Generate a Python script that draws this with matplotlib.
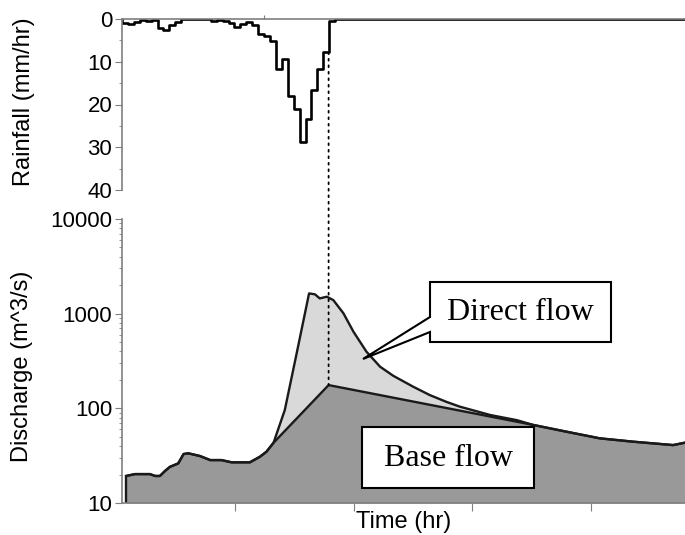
import matplotlib.pyplot as plt
import numpy as np
from matplotlib.patches import ConnectionPatch, Polygon, Rectangle

# hourly rainfall (mm/hr), one value per hour from t=0
rain = [1.0, 1.2, 0.7, 0.2, 0.4, 0.3, 2.2, 2.6, 1.4, 0.6,
        0.1, 0.0, 0.0, 0.0, 0.1, 0.5, 0.3, 0.4, 0.9, 1.8,
        1.2, 0.8, 1.4, 3.4, 4.0, 5.2, 11.6, 9.4, 18.1, 21.0,
        28.7, 23.5, 16.7, 11.6, 7.8, 0.5]

# total discharge (m^3/s)
flow_t = [0.7, 2.2, 4.7, 5.6, 6.4, 7.3, 8.1, 9.5, 10.4, 11.2, 13.2, 14.9,
          16.8, 18.5, 21.6, 23.3, 24.4, 25.6, 27.5, 29.5, 31.6, 32.6, 33.4,
          34.6, 35.7, 37.4, 39.1, 41.3, 43.6, 45.8, 49.2, 52.0, 54.8, 57.1,
          62.2, 66.7, 69.5, 75.1, 80.7, 86.4, 93.1, 95.1]
flow_q = [19.3, 20.2, 20.2, 19.3, 19.3, 21.9, 24.1, 26.2, 32.9, 33.5, 31.3, 28.4,
          28.4, 26.9, 26.9, 30.8, 34.8, 43.3, 96, 380, 1637, 1600, 1450,
          1510, 1390, 1010, 644, 396, 275, 221, 169, 138, 117, 104,
          85, 75, 66.7, 56.6, 48.2, 44.4, 40.9, 43.4]

# base flow (m^3/s)
base_t = [0.7, 2.2, 4.7, 5.6, 6.4, 7.3, 8.1, 9.5, 10.4, 11.2, 13.2, 14.9,
          16.8, 18.5, 21.6, 23.3, 24.4, 25.6, 34.9, 67.8, 69.5, 75.1, 80.7,
          86.4, 93.1, 95.1]
base_q = [19.3, 20.2, 20.2, 19.3, 19.3, 21.9, 24.1, 26.2, 32.9, 33.5, 31.3, 28.4,
          28.4, 26.9, 26.9, 30.8, 34.8, 43.3, 176, 70, 66.7, 56.6, 48.2,
          44.4, 40.9, 43.4]

plt.rcParams['font.family'] = ['Liberation Sans', 'DejaVu Sans']

W, H = 685, 535
fig = plt.figure(figsize=(W / 100, H / 100), dpi=100)
xmax = 95.1
spine_col = '#7f7f7f'
line_col = '#1a1a1a'

# ---- rainfall panel
ax1 = fig.add_axes([122 / W, 1 - 190 / H, 1 - 122 / W, 171 / H])
edges = np.arange(len(rain) + 1)
ax1.step(np.r_[0, edges], np.r_[0, rain, 0], where='post', color='black', lw=1.9)
ax1.hlines(0, len(rain), xmax, color='black', lw=1.9)
ax1.set_xlim(0, xmax)
ax1.set_ylim(40, 0)
ax1.set_yticks([0, 10, 20, 30, 40])
ax1.set_yticks([5, 15, 25, 35], minor=True)
ax1.xaxis.tick_top()
ax1.set_xticks([24])
ax1.set_xticklabels([])
ax1.tick_params(axis='x', direction='out', length=3, color=spine_col)
ax1.tick_params(axis='y', which='major', direction='out', length=5, pad=2,
                labelsize=16, color=spine_col)
ax1.tick_params(axis='y', which='minor', direction='out', length=2.5, color=spine_col)
for s in ['right', 'bottom']:
    ax1.spines[s].set_visible(False)
for s in ['top', 'left']:
    ax1.spines[s].set_color(spine_col)
    ax1.spines[s].set_linewidth(1.2)
ax1.patch.set_visible(False)

# ---- discharge panel
ax2 = fig.add_axes([122 / W, 1 - 503 / H, 1 - 122 / W, 284 / H])
ax2.set_yscale('log')
ax2.set_xlim(0, xmax)
ax2.set_ylim(10, 10000)
ax2.fill_between(flow_t, 10, flow_q, color='#d9d9d9', lw=0)
ax2.fill_between(base_t, 10, base_q, color='#999999', lw=0)
ax2.plot(flow_t, flow_q, color=line_col, lw=1.7)
ax2.plot(base_t, base_q, color=line_col, lw=1.7)
ax2.vlines(flow_t[0], 10, flow_q[0], color=line_col, lw=1.7)
ax2.set_xticks([19.1, 39.2, 59.2, 79.2])
ax2.set_xticklabels([])
ax2.set_yticks([10, 100, 1000, 10000])
ax2.set_yticklabels(['10', '100', '1000', '10000'])
ax2.tick_params(axis='x', direction='out', length=6, color=spine_col)
ax2.tick_params(axis='y', which='major', direction='out', length=5, pad=2,
                labelsize=16, color=spine_col)
ax2.tick_params(axis='y', which='minor', direction='out', length=2.5, color=spine_col)
for s in ['right', 'top']:
    ax2.spines[s].set_visible(False)
for s in ['bottom', 'left']:
    ax2.spines[s].set_color(spine_col)
    ax2.spines[s].set_linewidth(1.2)

# dotted line from end of rain to base-flow peak
ipk = int(np.argmax(base_q))
tpk = base_t[ipk]
con = ConnectionPatch(xyA=(tpk, rain[int(tpk)]), coordsA=ax1.transData,
                      xyB=(tpk, base_q[ipk]), coordsB=ax2.transData,
                      color='black', lw=1.3, linestyle=(0, (1, 2.6)))
fig.add_artist(con)

# axis labels
fig.text(24 / W, 1 - 102 / H, 'Rainfall (mm/hr)', rotation=90, fontsize=17,
         ha='center', va='center')
fig.text(22 / W, 1 - 366 / H, 'Discharge (m^3/s)', rotation=90, fontsize=17,
         ha='center', va='center')
fig.text(404 / W, 1 - 522 / H, 'Time (hr)', fontsize=17, ha='center', va='center')

# callouts
def fpx(pts):
    return [(x / W, 1 - y / H) for x, y in pts]

callout = Polygon(fpx([(430, 282), (611, 282), (611, 342), (430, 342), (430, 332),
                       (363, 359), (430, 317)]),
                  closed=True, transform=fig.transFigure, facecolor='white',
                  edgecolor='black', lw=1.5)
fig.add_artist(callout)
fig.text(520 / W, 1 - 312 / H, 'Direct flow', fontsize=23, family='Liberation Serif',
         ha='center', va='center')

box = Rectangle((362 / W, 1 - 488 / H), 172 / W, 61 / H, transform=fig.transFigure,
                facecolor='white', edgecolor='black', lw=1.5)
fig.add_artist(box)
fig.text(448 / W, 1 - 458 / H, 'Base flow', fontsize=23, family='Liberation Serif',
         ha='center', va='center')

fig.savefig('out.png', dpi=100)
